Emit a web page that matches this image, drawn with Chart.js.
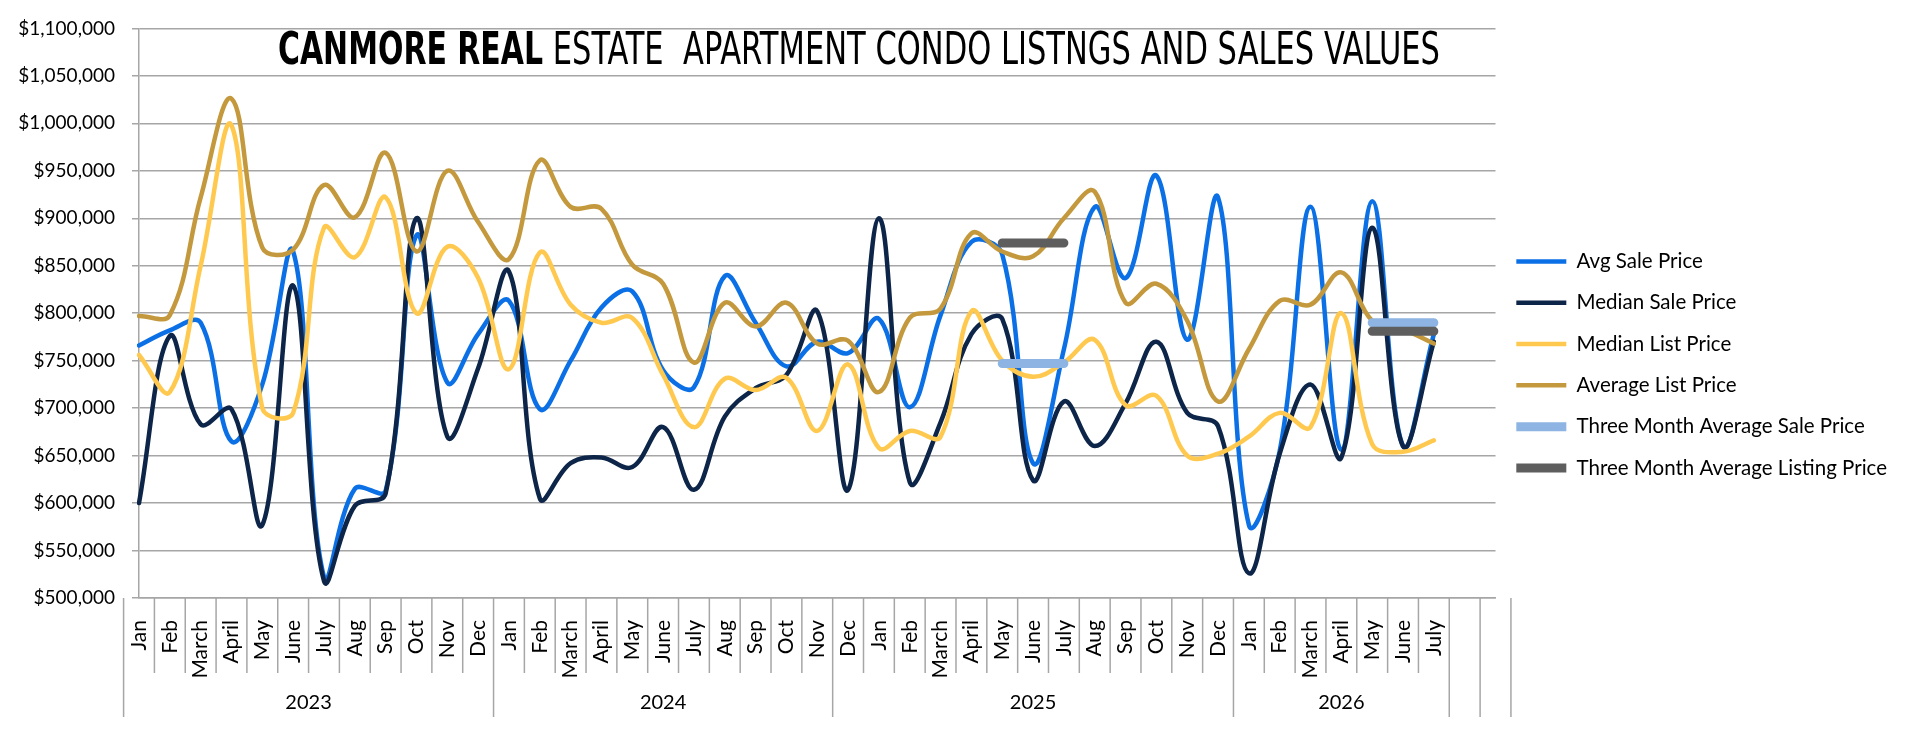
<!DOCTYPE html>
<html>
<head>
<meta charset="utf-8">
<script src="https://cdn.jsdelivr.net/npm/chart.js@4.4.1/dist/chart.umd.min.js"></script>
<style>
  html, body { margin:0; padding:0; background:#fff; }
  #wrap { width:1920px; height:732px; }
</style>
</head>
<body>
<div id="wrap"><canvas id="mainChart"></canvas></div>
<script>
  const months = ['Jan','Feb','March','April','May','June','July','Aug','Sep','Oct','Nov','Dec',
    'Jan','Feb','March','April','May','June','July','Aug','Sep','Oct','Nov',
    'Dec','Jan','Feb','March','April','May','June','July','Aug','Sep','Oct','Nov','Dec',
    'Jan','Feb','March','April','May','June','July','',''];
  const groupLabels = ['2023','2024','2025','2026','',''];
  const groupStarts = [0, 12, 23, 36, 43, 44, 45];

  const avgSale = [766000,782000,790000,665000,725000,865000,522000,615000,613000,882000,727000,778000,
    813000,699000,750000,806000,823000,740000,722000,839000,790000,744000,770000,
    758000,794000,701000,798000,875000,862000,642000,762000,912000,837000,945000,772000,922000,
    577000,655000,912000,656000,918000,660000,778000];
  const medianSale = [600000,776000,683000,699000,577000,829000,518000,597000,610000,900000,670000,742000,
    844000,605000,642000,648000,638000,680000,614000,691000,721000,735000,802000,
    614000,900000,622000,685000,778000,794000,624000,707000,660000,705000,770000,695000,681000,
    526000,652000,725000,648000,890000,660000,770000];
  const medianList = [756000,717000,850000,998000,700000,695000,890000,859000,922000,800000,870000,837000,
    741000,864000,809000,790000,795000,735000,680000,731000,719000,732000,676000,
    746000,658000,676000,670000,802000,750000,733000,748000,772000,703000,713000,650000,652000,
    670000,695000,680000,800000,662000,654000,666000];
  const avgList = [797000,798000,922000,1026000,869000,867000,935000,901000,969000,865000,950000,896000,
    857000,961000,912000,910000,851000,831000,748000,811000,786000,811000,768000,
    771000,717000,795000,805000,884000,865000,860000,900000,928000,811000,831000,792000,707000,
    762000,813000,809000,843000,792000,783000,768000];
  const threeMonthSale = [
    null,null,null,null,null,null,null,null,null,null,null,null,
    null,null,null,null,null,null,null,null,null,null,null,
    null,null,null,null,null,747000,747000,747000,null,null,null,null,null,
    null,null,null,null,790000,790000,790000];
  const threeMonthList = [
    null,null,null,null,null,null,null,null,null,null,null,null,
    null,null,null,null,null,null,null,null,null,null,null,
    null,null,null,null,null,874000,874000,874000,null,null,null,null,null,
    null,null,null,null,781000,781000,781000];

  const gridColor = '#A6A6A6';

  function line(label, data, color, width, order) {
    return { label, data, borderColor: color, backgroundColor: color, borderWidth: width,
      borderCapStyle: 'round', borderJoinStyle: 'round', pointRadius: 0, tension: 0.38,
      fill: false, spanGaps: false, order };
  }

  // month separators, year row, and the title inside the plot
  const decor = {
    id: 'decor',
    afterDraw(chart) {
      const { ctx, scales: { x } } = chart;
      const edge = i => x.getPixelForValue(i - 0.5);
      ctx.save();
      ctx.strokeStyle = gridColor;
      ctx.lineWidth = 1.5;
      for (let i = 0; i <= months.length; i++) {
        const len = groupStarts.includes(i) ? 119 : 75;
        ctx.beginPath(); ctx.moveTo(edge(i), x.top); ctx.lineTo(edge(i), x.top + len); ctx.stroke();
      }
      ctx.fillStyle = '#000';
      ctx.font = '20px Lato';
      ctx.textAlign = 'center';
      ctx.textBaseline = 'middle';
      groupLabels.forEach((t, k) => {
        ctx.fillText(t, (edge(groupStarts[k]) + edge(groupStarts[k + 1])) / 2, x.top + 105);
      });

      const face = '"Liberation Sans Narrow", "DejaVu Sans Condensed", sans-serif';
      const boldPart = 'CANMORE REAL', restPart = ' ESTATE  APARTMENT CONDO LISTNGS AND SALES VALUES';
      ctx.textAlign = 'left';
      ctx.textBaseline = 'alphabetic';
      ctx.font = 'bold 44px ' + face;
      let w = ctx.measureText(boldPart).width;
      ctx.save(); ctx.translate(278, 64); ctx.scale(265 / w, 1); ctx.fillText(boldPart, 0, 0); ctx.restore();
      ctx.font = '44px ' + face;
      w = ctx.measureText(restPart).width;
      ctx.save(); ctx.translate(543, 64); ctx.scale(897 / w, 1); ctx.fillText(restPart, 0, 0); ctx.restore();
      ctx.restore();
    }
  };

  new Chart(document.getElementById('mainChart'), {
    type: 'line',
    data: {
      labels: months,
      datasets: [
        line('Avg Sale Price', avgSale, '#0B70E6', 4.5, 6),
        line('Median Sale Price', medianSale, '#0C2548', 4.5, 5),
        line('Median List Price', medianList, '#FFC94F', 4.5, 4),
        line('Average List Price', avgList, '#C4993D', 4.5, 3),
        line('Three Month Average Sale Price', threeMonthSale, '#8DB4E2', 9, 2),
        line('Three Month Average Listing Price', threeMonthList, '#5E5E5E', 9, 1)
      ]
    },
    plugins: [decor],
    options: {
      responsive: true, maintainAspectRatio: false, animation: false, devicePixelRatio: 1,
      layout: { padding: { left: 5, right: 23, top: 22, bottom: 0 } },
      plugins: {
        tooltip: { enabled: false },
        legend: {
          position: 'right', align: 'start',
          title: { display: true, text: '', padding: { top: 194, bottom: 0 } },
          labels: {
            usePointStyle: true, pointStyle: 'line', pointStyleWidth: 50,
            padding: 20.8, color: '#000', font: { family: 'Lato', size: 20.5 },
            sort: (a, b) => a.datasetIndex - b.datasetIndex
          }
        }
      },
      scales: {
        x: {
          afterFit: s => { s.height = 134; },
          grid: { display: false },
          border: { display: true, color: gridColor, width: 1.5 },
          ticks: { autoSkip: false, maxRotation: 90, minRotation: 90, padding: 14,
            color: '#000', font: { family: 'Lato', size: 21 } }
        },
        y: {
          min: 500000, max: 1100000,
          afterFit: s => { s.width = 134; },
          grid: { color: gridColor, lineWidth: 1.5, tickLength: 7 },
          border: { color: gridColor, width: 1.5 },
          ticks: { stepSize: 50000, padding: 17, color: '#000', font: { family: 'Lato', size: 19 },
            callback: v => '$' + v.toLocaleString('en-US') }
        }
      }
    }
  });
</script>
</body>
</html>
